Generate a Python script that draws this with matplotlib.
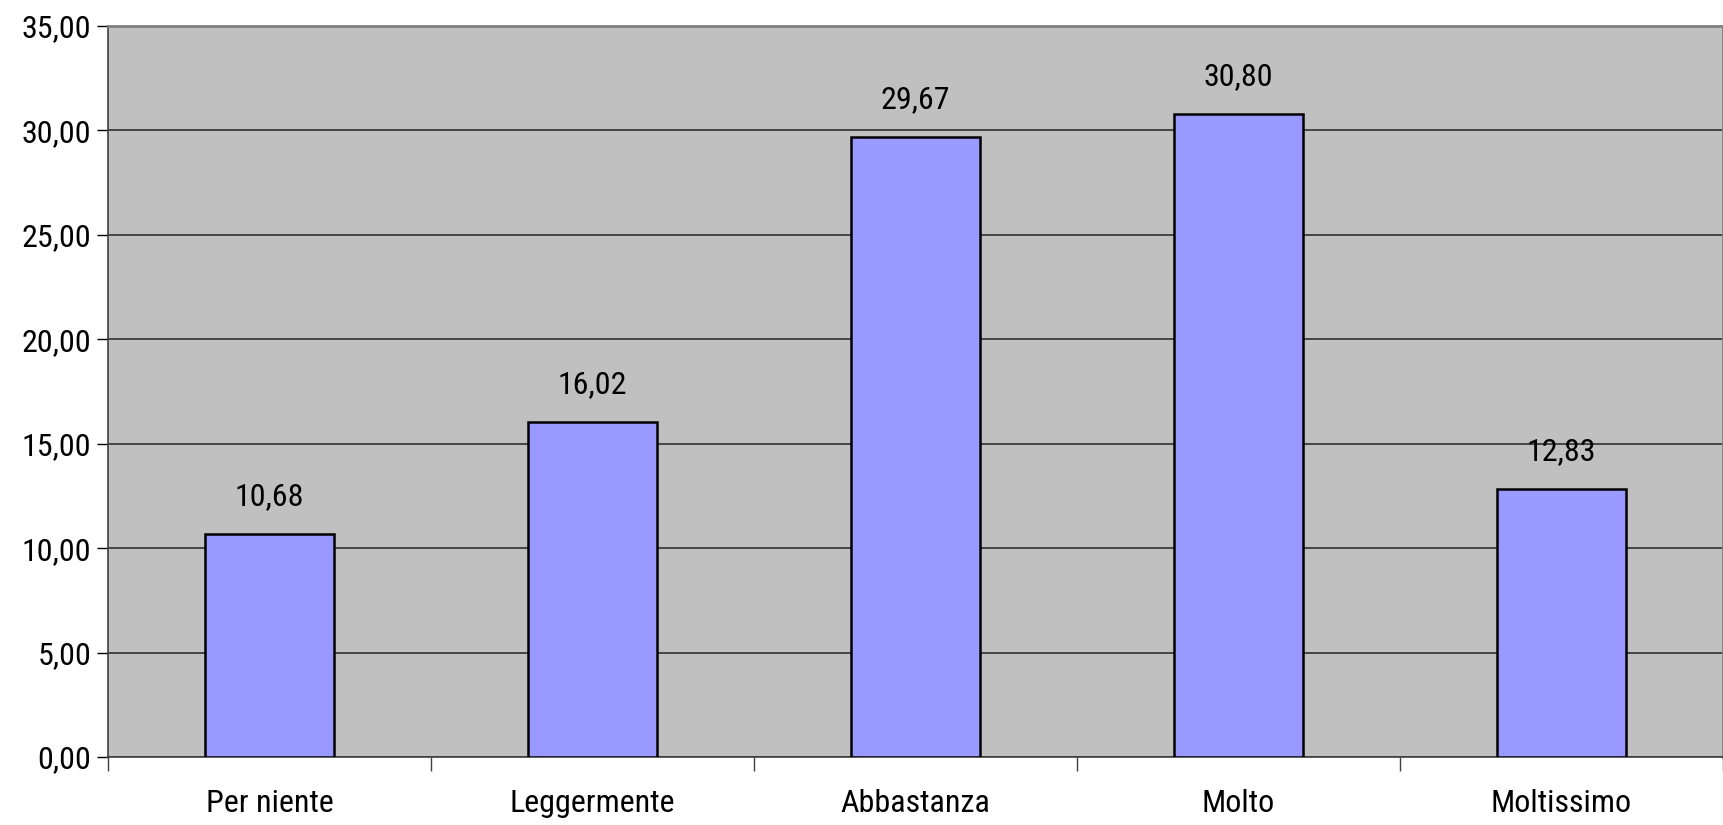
import matplotlib
matplotlib.use("Agg")
import matplotlib.pyplot as plt
from matplotlib.ticker import MultipleLocator, FuncFormatter, FixedLocator

categories = ["Per niente", "Leggermente", "Abbastanza", "Molto", "Moltissimo"]
values = [10.68, 16.02, 29.67, 30.80, 12.83]

plt.rcParams["font.family"] = ["Roboto Condensed", "Liberation Sans", "DejaVu Sans"]

fig = plt.figure(figsize=(17.24, 8.25), dpi=100)
ax = fig.add_axes([108 / 1724, 1 - 757 / 825, 1615 / 1724, 731 / 825])
ax.set_facecolor("#C0C0C0")

x = list(range(len(categories)))
ax.bar(x, values, width=0.4, color="#9999FF", edgecolor="black", linewidth=1.8, zorder=3)

ax.set_xlim(-0.5, len(categories) - 0.5)
ax.set_ylim(0, 35)
ax.yaxis.set_major_locator(MultipleLocator(5))
ax.yaxis.set_major_formatter(FuncFormatter(lambda v, p: f"{v:.2f}".replace(".", ",")))
ax.grid(axis="y", color="#303030", linewidth=1.2, zorder=1)

ax.set_xticks(x)
ax.set_xticklabels(categories)
ax.xaxis.set_minor_locator(FixedLocator([i - 0.5 for i in range(len(categories) + 1)]))
ax.tick_params(axis="x", which="major", length=0, pad=23, labelsize=23)
ax.tick_params(axis="x", which="minor", length=10, width=1, color="#404040")
ax.tick_params(axis="y", length=8, width=1, color="black", pad=4, labelsize=23)

for side in ("top", "right"):
    ax.spines[side].set_color("#808080")
    ax.spines[side].set_linewidth(2)
ax.spines["left"].set_color("#404040")
ax.spines["bottom"].set_color("#404040")
ax.spines["left"].set_linewidth(1.2)
ax.spines["bottom"].set_linewidth(1.2)

for xi, v in zip(x, values):
    ax.annotate(f"{v:.2f}".replace(".", ","), (xi, v), xytext=(0, 27), textcoords="offset points",
                ha="center", va="center", fontsize=23, zorder=4)

fig.savefig("out.png", dpi=100)
